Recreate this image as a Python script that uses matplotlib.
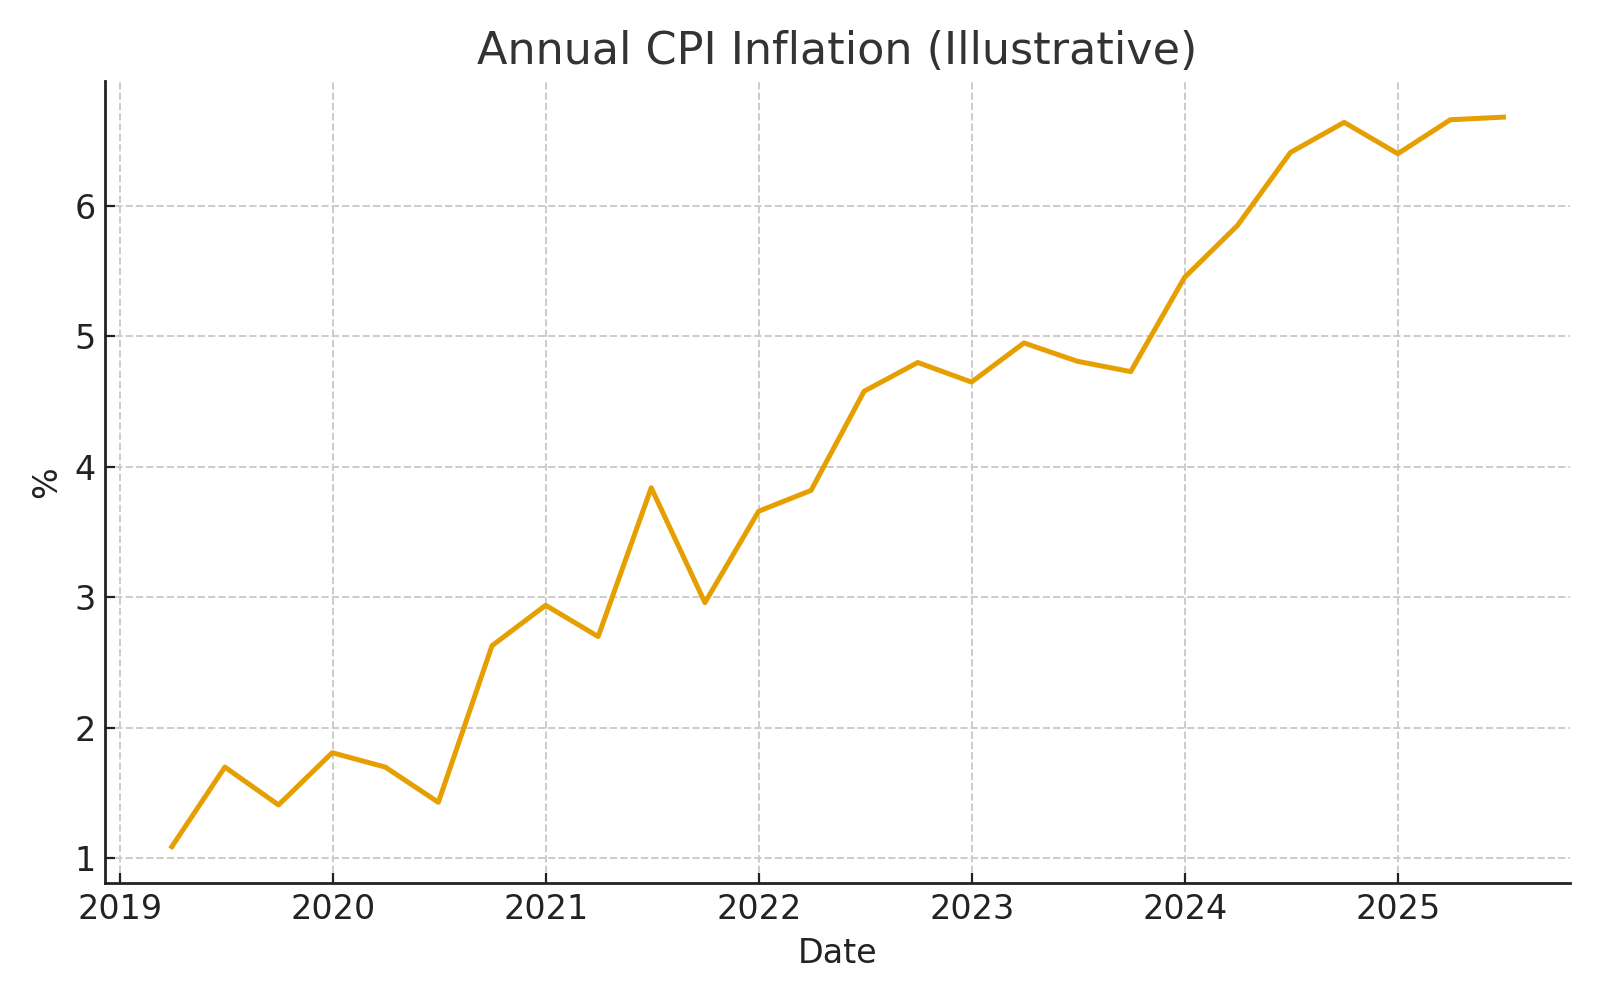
import numpy as np
import pandas as pd
import matplotlib.pyplot as plt

# quarterly CPI (illustrative)
dates = pd.date_range('2019-03-31', periods=26, freq='QE')
cpi = [1.09, 1.70, 1.41, 1.81, 1.70, 1.43, 2.63, 2.94, 2.70, 3.84,
       2.96, 3.66, 3.82, 4.58, 4.80, 4.65, 4.95, 4.81, 4.73, 5.45,
       5.85, 6.41, 6.64, 6.40, 6.66, 6.68]

fig, ax = plt.subplots(figsize=(8, 5), dpi=200)
ax.plot(dates, cpi, color='#E69F00', lw=1.8)

ax.set_title('Annual CPI Inflation (Illustrative)', fontsize=16, color='#333333')
ax.set_xlabel('Date', fontsize=12, color='#222222')
ax.set_ylabel('%', fontsize=12, color='#222222')
ax.tick_params(labelsize=12, colors='#222222', direction='in')
ax.grid(True, ls='--', color='#cccccc', lw=0.7)
for s in ['top', 'right']:
    ax.spines[s].set_visible(False)
for s in ['left', 'bottom']:
    ax.spines[s].set_color('#222222')
    ax.spines[s].set_linewidth(1.0)

fig.tight_layout()
fig.savefig('out.png')
